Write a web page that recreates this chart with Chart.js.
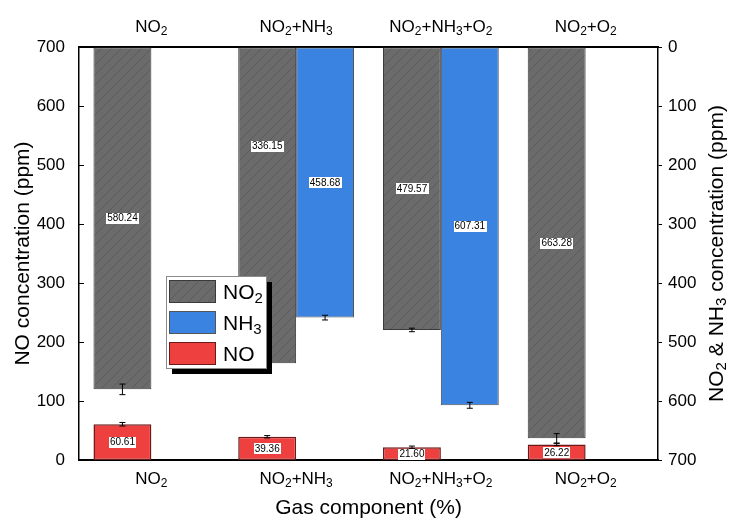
<!DOCTYPE html>
<html>
<head>
<meta charset="utf-8">
<script src="https://cdn.jsdelivr.net/npm/chart.js@4"></script>
<style>
    body { margin: 0; background: #fff; }
    #wrap { width: 732px; height: 523px; }
</style>
</head>
<body>
<div id="wrap"><canvas id="gasChart"></canvas></div>
<script>
// categories, "_2" means subscript 2
const categories = ['NO_2', 'NO_2+NH_3', 'NO_2+NH_3+O_2', 'NO_2+O_2'];

// NO (left axis)
const noValues = [60.61, 39.36, 21.60, 26.22];
const noErrors = [3, 2, 2, 2];

// NO2 (right axis, reversed)
const no2Values = [580.24, 536, 479.57, 663.28];
const no2Errors = [9, 9, 3, 8];
const no2Labels = [580.24, 336.15, 479.57, 663.28];

// NH3 (right axis, reversed)
const nh3Values = [null, 458.68, 607.31, 0];
const nh3Errors = [null, 4, 5, 0];

const axisMin = 0;
const axisMax = 700;
const axisStep = 100;

const FONT = "'Liberation Sans', Arial, sans-serif";
Chart.defaults.font.family = FONT;
Chart.defaults.color = '#000';

const ctx = document.getElementById('gasChart').getContext('2d');

function makeHatch() {
    const c = document.createElement('canvas');
    c.width = 10;
    c.height = 10;
    const g = c.getContext('2d');
    g.fillStyle = '#6b6b6b';
    g.fillRect(0, 0, 10, 10);
    g.strokeStyle = '#545454';
    g.lineWidth = 0.7;
    g.beginPath();
    g.moveTo(0, 10); g.lineTo(10, 0);
    g.moveTo(-1, 1); g.lineTo(1, -1);
    g.moveTo(9, 11); g.lineTo(11, 9);
    g.stroke();
    return ctx.createPattern(c, 'repeat');
}
const hatch = makeHatch();

// text with subscripts, centred on (x, y)
function richRuns(text) {
    return text.split(/(_\d)/).filter(s => s).map(s => s[0] === '_' ? { t: s.slice(1), sub: true } : { t: s, sub: false });
}
function drawRich(c, text, x, y, size, align) {
    const runs = richRuns(text);
    const subSize = Math.round(size * 0.7);
    let w = 0;
    runs.forEach(r => {
        c.font = (r.sub ? subSize : size) + 'px ' + FONT;
        r.w = c.measureText(r.t).width;
        w += r.w;
    });
    let cx = align === 'left' ? x : x - w / 2;
    const base = y + size * 0.358;
    c.textBaseline = 'alphabetic';
    c.textAlign = 'left';
    c.fillStyle = '#000';
    runs.forEach(r => {
        c.font = (r.sub ? subSize : size) + 'px ' + FONT;
        c.fillText(r.t, cx, r.sub ? base + size * 0.18 : base);
        cx += r.w;
    });
}

const extrasPlugin = {
    id: 'extras',
    afterDatasetsDraw(chart) {
        const c = chart.ctx;
        // error bars
        chart.data.datasets.forEach((ds, i) => {
            const meta = chart.getDatasetMeta(i);
            const ys = chart.scales[meta.yAxisID];
            meta.data.forEach((bar, j) => {
                const v = ds.data[j];
                const e = ds.errors[j];
                if (v == null || !e) return;
                const y1 = ys.getPixelForValue(v - e);
                const y2 = ys.getPixelForValue(v + e);
                c.save();
                c.strokeStyle = '#000';
                c.lineWidth = 1;
                c.beginPath();
                c.moveTo(bar.x, y1); c.lineTo(bar.x, y2);
                c.moveTo(bar.x - 3, y1); c.lineTo(bar.x + 3, y1);
                c.moveTo(bar.x - 3, y2); c.lineTo(bar.x + 3, y2);
                c.stroke();
                c.restore();
            });
        });
        // value labels
        chart.data.datasets.forEach((ds, i) => {
            const meta = chart.getDatasetMeta(i);
            const ys = chart.scales[meta.yAxisID];
            meta.data.forEach((bar, j) => {
                const lab = ds.valueLabels ? ds.valueLabels[j] : ds.data[j];
                if (!lab) return;
                const y = ys.getPixelForValue(lab / 2);
                const txt = lab.toFixed(2);
                c.save();
                c.font = '10px ' + FONT;
                const w = c.measureText(txt).width + 2;
                c.fillStyle = '#fff';
                c.fillRect(Math.round(bar.x - w / 2), Math.round(y - 5), Math.round(w), 11);
                c.fillStyle = '#000';
                c.textAlign = 'center';
                c.textBaseline = 'middle';
                c.fillText(txt, bar.x, y + 0.5);
                c.restore();
            });
        });
    },
    afterDraw(chart) {
        const c = chart.ctx;
        const area = chart.chartArea;
        const xs = chart.scales.x;
        // category labels top and bottom
        categories.forEach((cat, i) => {
            const x = xs.getPixelForValue(i);
            drawRich(c, cat, x, 478, 17);
            drawRich(c, cat, x, 26, 17);
        });
        // inward ticks on left axis
        const ys = chart.scales.y;
        c.save();
        c.strokeStyle = '#000';
        c.lineWidth = 1;
        c.beginPath();
        ys.ticks.forEach(t => {
            const y = Math.round(ys.getPixelForValue(t.value)) + 0.5;
            c.moveTo(area.left, y);
            c.lineTo(area.left + 5, y);
        });
        c.stroke();
        c.restore();
        // right axis title
        c.save();
        c.translate(715, (area.top + area.bottom) / 2);
        c.rotate(-Math.PI / 2);
        drawRich(c, 'NO_2 & NH_3 concentration (ppm)', 0, 0, 21);
        c.restore();
        // legend
        const lx = 166, ly = 276, lw = 100, lh = 92;
        c.save();
        c.fillStyle = '#000';
        c.fillRect(lx + 6, ly + 6, lw, lh);
        c.fillStyle = '#fff';
        c.fillRect(lx, ly, lw, lh);
        c.strokeStyle = '#8a8a8a';
        c.lineWidth = 1;
        c.strokeRect(lx + 0.5, ly + 0.5, lw, lh);
        const items = [
            { name: 'NO_2', fill: hatch, border: '#3a3a3a' },
            { name: 'NH_3', fill: '#3b83e0', border: '#555' },
            { name: 'NO', fill: '#ef4040', border: '#6b1a1a' },
        ];
        items.forEach((it, k) => {
            const sy = ly + 4 + k * 31;
            c.fillStyle = it.fill;
            c.fillRect(lx + 3, sy, 47, 23);
            c.strokeStyle = it.border;
            c.strokeRect(lx + 3.5, sy + 0.5, 46, 22);
            drawRich(c, it.name, lx + 57, sy + 11.5, 21, 'left');
        });
        c.restore();
    }
};

const gasChartData = {
    labels: categories,
    datasets: [
        {
            label: 'NO2',
            data: no2Values,
            errors: no2Errors,
            valueLabels: no2Labels,
            yAxisID: 'y2',
            stack: 'a',
            backgroundColor: hatch,
            borderColor: '#3a3a3a',
            borderWidth: 1,
            borderSkipped: false,
            order: 2,
        },
        {
            label: 'NH3',
            data: nh3Values,
            errors: nh3Errors,
            yAxisID: 'y2',
            stack: 'b',
            backgroundColor: '#3b83e0',
            borderColor: '#555',
            borderWidth: 1,
            borderSkipped: false,
            order: 2,
        },
        {
            label: 'NO',
            data: noValues,
            errors: noErrors,
            yAxisID: 'y',
            stack: 'a',
            backgroundColor: '#ef4040',
            borderColor: '#6b1a1a',
            borderWidth: 1.5,
            borderSkipped: false,
            order: 1,
        },
    ]
};

const gasChartConfig = {
    type: 'bar',
    data: gasChartData,
    options: {
        responsive: true,
        maintainAspectRatio: false,
        animation: false,
        layout: { padding: 0 },
        datasets: {
            bar: { categoryPercentage: 0.8, barPercentage: 1.0 }
        },
        plugins: {
            legend: { display: false },
            tooltip: { enabled: false },
        },
        scales: {
            x: {
                position: 'bottom',
                grid: { display: false },
                border: { display: true, color: '#000', width: 2 },
                ticks: { display: false },
                title: {
                    display: true,
                    text: 'Gas component (%)',
                    font: { size: 21 },
                    padding: { top: 0, bottom: 2 },
                },
                afterFit: (s) => { s.height = 63; },
            },
            x2: {
                type: 'category',
                labels: categories,
                position: 'top',
                grid: { display: false },
                border: { display: true, color: '#000', width: 2 },
                ticks: { display: false },
                afterFit: (s) => { s.height = 47; },
            },
            y: {
                position: 'left',
                min: axisMin,
                max: axisMax,
                grid: { display: false, drawTicks: false },
                border: { display: true, color: '#000', width: 1.5 },
                ticks: { stepSize: axisStep, padding: 14, font: { size: 17 } },
                title: {
                    display: true,
                    text: 'NO concentration (ppm)',
                    font: { size: 21 },
                    padding: { top: 11, bottom: 0 },
                },
                afterFit: (s) => { s.width = 79; },
            },
            y2: {
                position: 'right',
                reverse: true,
                min: axisMin,
                max: axisMax,
                grid: { display: true, drawOnChartArea: false, drawTicks: true, tickLength: 4, color: '#000' },
                border: { display: true, color: '#000', width: 1.5 },
                ticks: { stepSize: axisStep, padding: 6, font: { size: 17 } },
                afterFit: (s) => { s.width = 74; },
            },
        }
    },
    plugins: [extrasPlugin],
};

const gasChartInstance = new Chart(ctx, gasChartConfig);
</script>
</body>
</html>
